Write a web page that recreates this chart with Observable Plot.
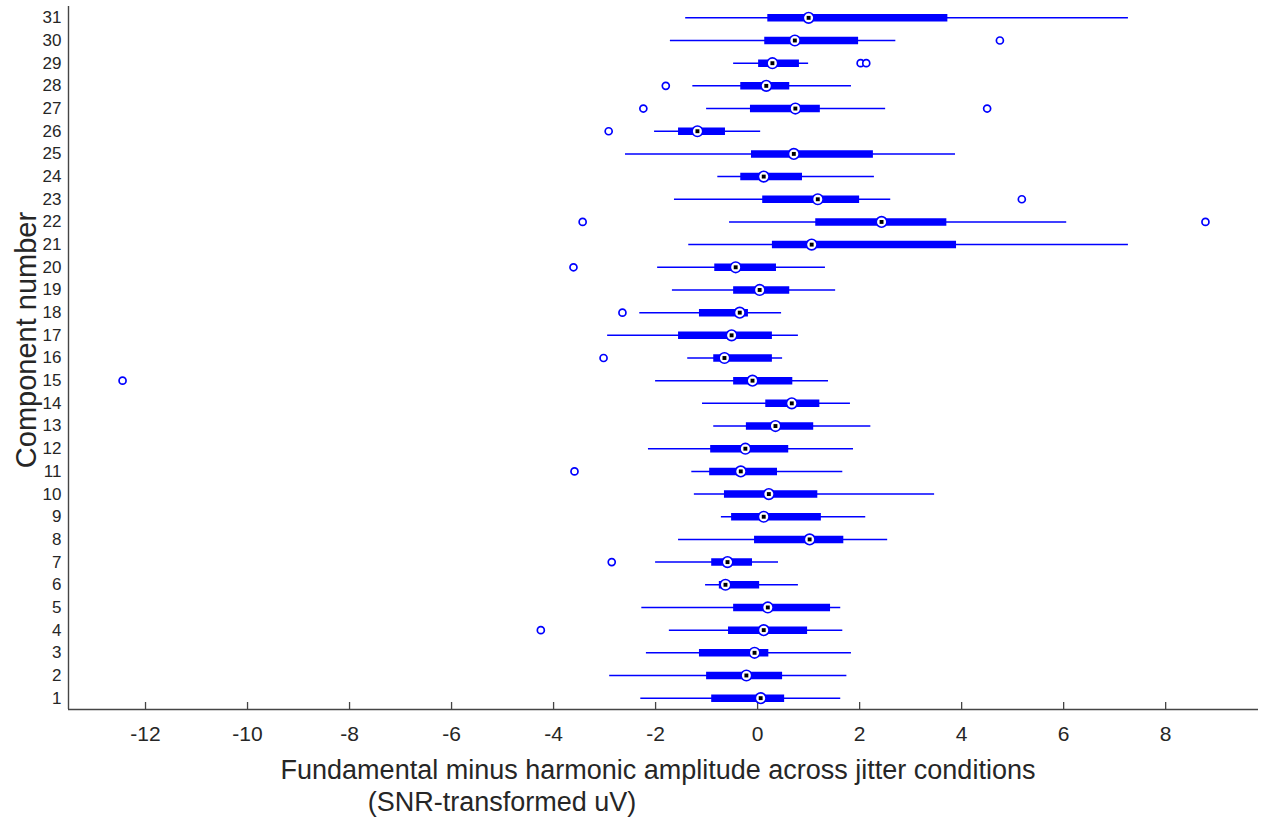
<!DOCTYPE html>
<html>
<head>
<meta charset="utf-8">
<script src="https://cdn.jsdelivr.net/npm/d3@7"></script>
<script src="https://cdn.jsdelivr.net/npm/@observablehq/plot@0.6"></script>
<style>
  html, body { margin: 0; padding: 0; background: #fff; }
  #chart { width: 1263px; height: 817px; }
</style>
</head>
<body>
<div id="chart"></div>
<script>
const components = d3.range(1, 32);
const whiskerLow  = [-2.29, -2.90, -2.18, -1.73, -2.27, -1.02, -2.00, -1.55, -0.71, -1.24, -1.29, -2.14, -0.86, -1.08, -2.00, -1.37, -2.94, -2.31, -1.67, -1.96, -1.35, -0.55, -1.63, -0.78, -2.59, -2.02, -1.00, -1.27, -0.47, -1.71, -1.41];
const quartile1   = [-0.90, -1.00, -1.14, -0.57, -0.47, -0.75, -0.90, -0.06, -0.51, -0.65, -0.94, -0.92, -0.22, 0.16, -0.47, -0.86, -1.55, -1.14, -0.47, -0.84, 0.29, 1.14, 0.10, -0.33, -0.12, -1.55, -0.14, -0.33, 0.02, 0.14, 0.20];
const medians     = [0.06, -0.22, -0.06, 0.12, 0.20, -0.63, -0.59, 1.02, 0.12, 0.22, -0.33, -0.24, 0.35, 0.67, -0.10, -0.65, -0.51, -0.35, 0.04, -0.43, 1.06, 2.43, 1.18, 0.12, 0.71, -1.18, 0.74, 0.17, 0.29, 0.73, 1.00];
const quartile3   = [0.53, 0.49, 0.22, 0.98, 1.43, 0.04, -0.10, 1.69, 1.25, 1.18, 0.39, 0.61, 1.10, 1.22, 0.69, 0.29, 0.29, -0.18, 0.63, 0.37, 3.90, 3.71, 2.00, 0.88, 2.27, -0.63, 1.23, 0.63, 0.82, 1.98, 3.73];
const whiskerHigh = [1.63, 1.75, 1.84, 1.67, 1.63, 0.80, 0.41, 2.55, 2.12, 3.47, 1.67, 1.88, 2.22, 1.82, 1.39, 0.49, 0.80, 0.47, 1.53, 1.33, 7.27, 6.06, 2.61, 2.29, 3.88, 0.06, 2.51, 1.84, 1.00, 2.71, 7.27];

const outlierComponent = [4, 7, 11, 15, 16, 18, 20, 22, 22, 23, 26, 27, 27, 28, 29, 29, 30];
const outlierValue     = [-4.25, -2.86, -3.59, -12.45, -3.02, -2.65, -3.61, -3.43, 8.78, 5.18, -2.92, -2.24, 4.50, -1.80, 2.02, 2.13, 4.75];

const xTicks = [-12, -10, -8, -6, -4, -2, 0, 2, 4, 6, 8];
const xDomain = [-13.51, 9.82];
const yDomain = [0.5, 31.5];
const xLabelLine1 = "Fundamental minus harmonic amplitude across jitter conditions";
const xLabelLine2 = "(SNR-transformed uV)";
const yLabel = "Component number";

const boxes = components.map((c, i) => ({
  c, lo: whiskerLow[i], q1: quartile1[i], med: medians[i], q3: quartile3[i], hi: whiskerHigh[i]
}));
const outliers = outlierComponent.map((c, i) => ({c, v: outlierValue[i]}));

const BLUE = "#0000ff";
const AXIS = "#454545";
const W = 1263, H = 817, MT = 6, MB = 108, ML = 68, MR = 5;
const frameH = H - MT - MB;

const chart = Plot.plot({
  width: W,
  height: H,
  marginTop: MT,
  marginBottom: MB,
  marginLeft: ML,
  marginRight: MR,
  style: {fontFamily: "'Liberation Sans', Arial, Helvetica, sans-serif", color: "#262626", background: "white", overflow: "visible"},
  x: {domain: xDomain},
  y: {domain: yDomain},
  marks: [
    Plot.axisY({ticks: components, tickSize: 0, tickPadding: 7, fontSize: 17, tickFormat: d => String(d), label: null}),
    Plot.axisX({ticks: xTicks, tickSize: 0, tickPadding: 17, fontSize: 21, tickFormat: d => String(d), label: null}),
    Plot.tickX(xTicks, {x: d => d, stroke: AXIS, strokeWidth: 1.3, insetTop: frameH - 7}),
    Plot.ruleX([xDomain[0]], {stroke: AXIS, strokeWidth: 1.4}),
    Plot.ruleY([yDomain[0]], {stroke: AXIS, strokeWidth: 1.4}),
    Plot.ruleY(boxes, {y: "c", x1: "lo", x2: "hi", stroke: BLUE, strokeWidth: 1.5}),
    Plot.ruleY(boxes, {y: "c", x1: "q1", x2: "q3", stroke: BLUE, strokeWidth: 7.5, strokeLinecap: "butt"}),
    Plot.dot(boxes, {y: "c", x: "med", r: 5.3, fill: "white", stroke: BLUE, strokeWidth: 1.6}),
    Plot.dot(boxes, {y: "c", x: "med", r: 2.2, symbol: "square", fill: "black", stroke: "none"}),
    Plot.dot(outliers, {y: "c", x: "v", r: 3.5, fill: "white", stroke: BLUE, strokeWidth: 1.7})
  ]
});

const svg = d3.select(chart);
svg.append("text")
  .attr("x", 658).attr("y", 770)
  .attr("text-anchor", "middle").attr("dominant-baseline", "central")
  .attr("font-size", 27).attr("fill", "#262626")
  .text(xLabelLine1);
svg.append("text")
  .attr("x", 502).attr("y", 802)
  .attr("text-anchor", "middle").attr("dominant-baseline", "central")
  .attr("font-size", 27).attr("fill", "#262626")
  .text(xLabelLine2);
svg.append("text")
  .attr("transform", "translate(26,340) rotate(-90)")
  .attr("text-anchor", "middle").attr("dominant-baseline", "central")
  .attr("font-size", 29).attr("fill", "#262626")
  .text(yLabel);

document.getElementById("chart").appendChild(chart);
</script>
</body>
</html>
